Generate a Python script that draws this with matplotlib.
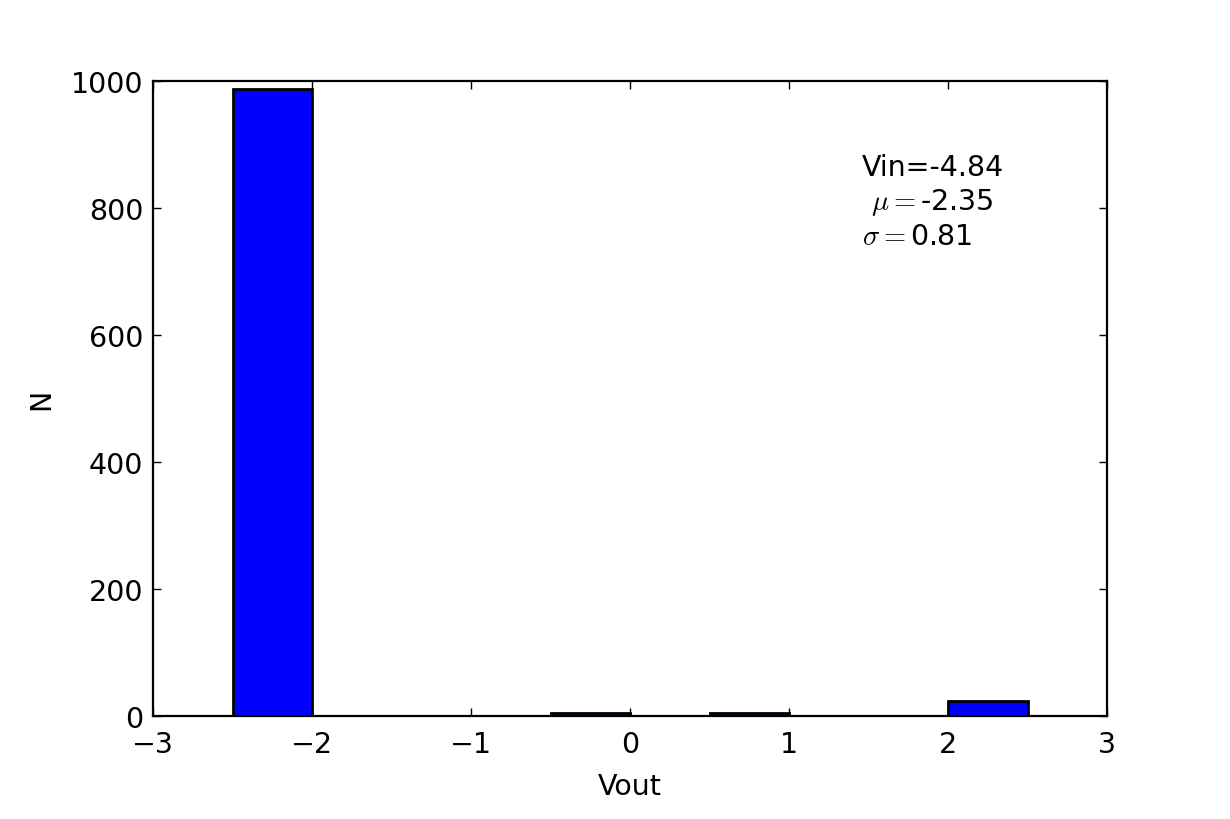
import matplotlib
matplotlib.use('Agg')
import matplotlib.pyplot as plt
import numpy as np

# histogram of Vout for one input voltage
bin_edges = [-2.5, -2.0, -1.5, -1.0, -0.5, 0.0, 0.5, 1.0, 1.5, 2.0, 2.5]
counts = [988, 0, 0, 0, 5, 0, 5, 0, 0, 23]
vin = -4.84
mu = -2.35
sigma = 0.81

plt.rcParams['font.family'] = 'DejaVu Sans'
plt.rcParams['mathtext.fontset'] = 'cm'
plt.rcParams['font.size'] = 20.5

fig = plt.figure(figsize=(12.3, 8.2), dpi=100)
fig.patch.set_facecolor('white')
ax = fig.add_axes([0.1244, 0.1256, 0.7756, 0.7744])

ax.hist(bin_edges[:-1], bins=bin_edges, weights=counts,
        facecolor='#0000ff', edgecolor='black', linewidth=2)

ax.set_xlim(-3, 3)
ax.set_ylim(0, 1000)
ax.set_xticks([-3, -2, -1, 0, 1, 2, 3])
ax.set_yticks([0, 200, 400, 600, 800, 1000])
ax.tick_params(direction='in', length=6, width=1, top=True, right=True, pad=7)
ax.tick_params(axis='x', pad=10)
for s in ax.spines.values():
    s.set_linewidth(1.6)

ax.set_xlabel('Vout', labelpad=10)
ax.set_ylabel('N', labelpad=11)

ax.text(1.46, 887, 'Vin=%.2f\n $\\mu=$%.2f\n$\\sigma=$%.2f' % (vin, mu, sigma),
        ha='left', va='top', linespacing=1.22)

plt.savefig('out.png', dpi=100, facecolor='white')
